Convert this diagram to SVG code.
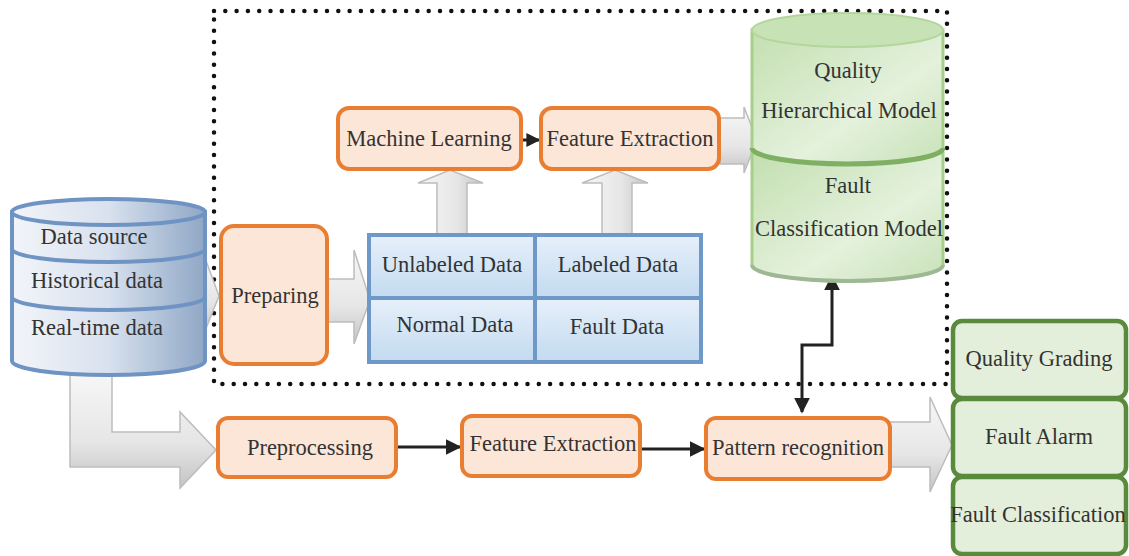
<svg xmlns="http://www.w3.org/2000/svg" width="1129" height="556" viewBox="0 0 1129 556">
<defs>
<style>
text{font-family:"Liberation Serif","Times New Roman",serif;font-size:22.5px;fill:#333;text-anchor:middle}
.ob{fill:#FCE6D8;stroke:#E97E33;stroke-width:4}
.gb{fill:#E4EFDB;stroke:#5A8A3C;stroke-width:4.5}
.cell{fill:url(#gBlue);stroke:#6E98C8;stroke-width:4}
.ga{fill:url(#gGray);stroke:#BDBDBD;stroke-width:1.5}
.gav{fill:url(#gGrayV);stroke:#BDBDBD;stroke-width:1.5}
.ln{stroke:#222;stroke-width:3;fill:none}
</style>
<linearGradient id="gBlue" x1="0" y1="0" x2="0" y2="1"><stop offset="0" stop-color="#E6F0FA"/><stop offset="1" stop-color="#C3DAF0"/></linearGradient>
<linearGradient id="gCyl" x1="0" y1="0" x2="1" y2="0"><stop offset="0" stop-color="#F2F5FA"/><stop offset="0.5" stop-color="#D8E1EE"/><stop offset="1" stop-color="#8FA7C6"/></linearGradient>
<linearGradient id="gGreen" x1="0" y1="0" x2="1" y2="1"><stop offset="0" stop-color="#C3DFB0"/><stop offset="0.6" stop-color="#E4F1DC"/><stop offset="1" stop-color="#C8E2B8"/></linearGradient>
<linearGradient id="gGray" x1="0" y1="0" x2="0" y2="1"><stop offset="0" stop-color="#F7F7F7"/><stop offset="0.6" stop-color="#E6E6E6"/><stop offset="1" stop-color="#C4C4C4"/></linearGradient>
<linearGradient id="gGrayV" x1="0" y1="0" x2="1" y2="0"><stop offset="0" stop-color="#F7F7F7"/><stop offset="0.6" stop-color="#E6E6E6"/><stop offset="1" stop-color="#C4C4C4"/></linearGradient>
<marker id="ah" viewBox="0 0 10 10" refX="9" refY="5" markerWidth="14" markerHeight="14" markerUnits="userSpaceOnUse" orient="auto-start-reverse"><path d="M0,0 L10,5 L0,10 Z" fill="#222"/></marker>
<marker id="ah2" viewBox="0 0 10 10" refX="9" refY="5" markerWidth="16" markerHeight="16" markerUnits="userSpaceOnUse" orient="auto-start-reverse"><path d="M0,0 L10,5 L0,10 Z" fill="#222"/></marker>
</defs>
<rect width="1129" height="556" fill="#fff"/>

<!-- dotted frame -->
<rect x="214" y="11" width="733" height="373" fill="none" stroke="#111" stroke-width="4.5" stroke-dasharray="0 11.3" stroke-linecap="round"/>

<g id="connectors">
  <polygon class="ga" points="180,275 205,275 205,258 219,296 205,331 205,318 180,318"/>
  <polygon class="ga" points="328,279 354,279 354,250 370,300 354,344 354,322 328,322"/>
  <polygon class="ga" points="720,118 744,118 744,107 757,140 744,173 744,164 720,164"/>
  <polygon class="gav" points="437,235 437,183 418,183 450,170 483,183 467,183 467,235"/>
  <polygon class="gav" points="602,235 602,183 582,183 615,170 648,183 632,183 632,235"/>
  <polygon class="ga" points="70,372 112,372 112,432 180,432 180,412 216,450 180,488 180,467 70,467"/>
  <polygon class="ga" points="890,422 930,422 930,397 952,445 930,492 930,467 890,467"/>
  <line class="ln" x1="522" y1="140" x2="539" y2="140" marker-end="url(#ah)"/>
  <line class="ln" x1="397" y1="447" x2="460" y2="447" marker-end="url(#ah2)"/>
  <line class="ln" x1="641" y1="449" x2="704" y2="449" marker-end="url(#ah2)"/>
  <path class="ln" d="M832,276 V345 H802 V412" marker-start="url(#ah2)" marker-end="url(#ah2)"/>
</g>

<g id="data-cylinder">
  <path d="M12,212 V361 A96.5,14 0 0 0 205,361 V212 Z" fill="url(#gCyl)" stroke="#6F93C2" stroke-width="4"/>
  <ellipse cx="108.5" cy="212" rx="96.5" ry="13" fill="url(#gCyl)" stroke="#6F93C2" stroke-width="4"/>
  <path d="M12,249 A96.5,13 0 0 0 205,249" fill="none" stroke="#6F93C2" stroke-width="4"/>
  <path d="M12,297 A96.5,13 0 0 0 205,297" fill="none" stroke="#6F93C2" stroke-width="4"/>
  <text x="94" y="244">Data source</text>
  <text x="97" y="288">Historical data</text>
  <text x="97" y="335">Real-time data</text>
</g>

<g id="preparing">
  <rect class="ob" x="221" y="226" width="106" height="138" rx="13"/>
  <text x="275" y="303">Preparing</text>
</g>

<g id="data-table">
  <rect class="cell" x="369" y="235" width="166" height="63"/>
  <rect class="cell" x="535" y="235" width="166" height="63"/>
  <rect class="cell" x="369" y="298" width="166" height="64"/>
  <rect class="cell" x="535" y="298" width="166" height="64"/>
  <text x="452" y="272">Unlabeled Data</text>
  <text x="618" y="272">Labeled Data</text>
  <text x="455" y="332">Normal Data</text>
  <text x="617" y="334">Fault Data</text>
</g>

<g id="machine-learning">
  <rect class="ob" x="338" y="108" width="183" height="61" rx="11"/>
  <text x="429" y="146">Machine Learning</text>
</g>

<g id="feature-extraction-top">
  <rect class="ob" x="541" y="108" width="178" height="61" rx="11"/>
  <text x="630" y="146">Feature Extraction</text>
</g>

<g id="model-cylinder">
  <path d="M752,153 V265 A95.5,16 0 0 0 943,265 V153 Z" fill="url(#gGreen)" stroke="#A6CF8C" stroke-width="3"/>
  <path d="M752,265 A95.5,16 0 0 0 943,265" fill="none" stroke="#9FB894" stroke-width="4"/>
  <path d="M752,30 V148 A95.5,16 0 0 0 943,148 V30 Z" fill="url(#gGreen)" stroke="#A6CF8C" stroke-width="3"/>
  <path d="M752,148 A95.5,16 0 0 0 943,148" fill="none" stroke="#7FAF63" stroke-width="5"/>
  <ellipse cx="847.5" cy="30" rx="95.5" ry="17" fill="#C7E2B5" stroke="#B3D69C" stroke-width="2"/>
  <text x="848" y="78">Quality</text>
  <text x="849" y="118">Hierarchical Model</text>
  <text x="848" y="193">Fault</text>
  <text x="849" y="236">Classification Model</text>
</g>

<g id="preprocessing">
  <rect class="ob" x="218" y="418" width="178" height="59" rx="10"/>
  <text x="310" y="455">Preprocessing</text>
</g>

<g id="feature-extraction-bottom">
  <rect class="ob" x="462" y="416" width="178" height="60" rx="10"/>
  <text x="553" y="451">Feature Extraction</text>
</g>

<g id="pattern-recognition">
  <rect class="ob" x="706" y="418" width="184" height="61" rx="10"/>
  <text x="798" y="455">Pattern recognition</text>
</g>

<g id="quality-grading">
  <rect class="gb" x="953" y="321" width="173" height="77" rx="9"/>
  <text x="1039" y="366">Quality Grading</text>
</g>
<g id="fault-alarm">
  <rect class="gb" x="953" y="399" width="173" height="77" rx="9"/>
  <text x="1039" y="444">Fault Alarm</text>
</g>
<g id="fault-classification">
  <rect class="gb" x="953" y="477" width="173" height="77" rx="9"/>
  <text x="1038" y="522">Fault Classification</text>
</g>
</svg>
